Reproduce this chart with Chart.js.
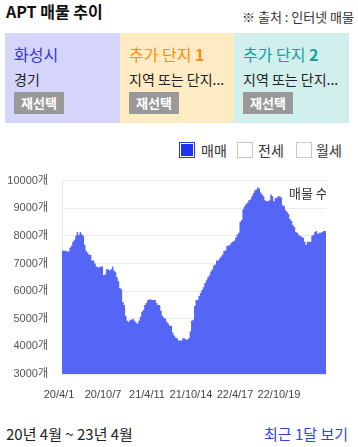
<!DOCTYPE html>
<html><head><meta charset="utf-8">
<script src="https://cdn.jsdelivr.net/npm/chart.js@4"></script>
<style>
html,body{margin:0;padding:0;background:#fff;width:358px;height:447px;overflow:hidden;font-family:"Noto Sans CJK KR","Noto Sans",sans-serif;color:#222;}
.abs{position:absolute;white-space:nowrap;}
#title{left:6px;top:0px;font-size:16px;font-weight:bold;color:#111;line-height:22px}
#src{right:4px;top:8px;font-size:13px;color:#333;line-height:18px}
.panel{position:absolute;top:33px;height:90px;}
.ptitle{position:absolute;left:9px;top:11px;font-size:16px;line-height:20px;white-space:nowrap}
.ptitle b{font-weight:bold}
.psub{position:absolute;left:9px;top:37px;font-size:14px;line-height:18px;color:#222;white-space:nowrap}
.btn{position:absolute;left:9px;top:59px;width:50px;height:22px;background:#999;color:#fff;font-weight:bold;font-size:13px;line-height:22px;text-align:center}
.lbox{position:absolute;top:142px;width:14px;height:14px;border:1px solid #c8c8c8;background:#fff}
.ltxt{position:absolute;top:141px;font-size:14px;line-height:18px;color:#333}
#chartWrap{position:absolute;left:0;top:160px;width:358px;height:240px}
#range{left:6px;top:424px;font-size:15px;line-height:20px;color:#222}
#recent{right:10px;top:424px;font-size:15px;line-height:20px;color:#3344ee}
</style>
</head><body>
<div id="title" class="abs">APT 매물 추이</div>
<div id="src" class="abs">※ 출처 : 인터넷 매물</div>

<div class="panel" style="left:5px;width:115px;background:#d5d5fb">
  <div class="ptitle" style="color:#3535e0">화성시</div>
  <div class="psub">경기</div>
  <div class="btn">재선택</div>
</div>
<div class="panel" style="left:120px;width:114px;background:#fdebc3">
  <div class="ptitle" style="color:#ff8a1a">추가 단지 <b>1</b></div>
  <div class="psub">지역 또는 단지...</div>
  <div class="btn">재선택</div>
</div>
<div class="panel" style="left:234px;width:115px;background:#d0efed">
  <div class="ptitle" style="color:#1a9e9a">추가 단지 <b>2</b></div>
  <div class="psub">지역 또는 단지...</div>
  <div class="btn">재선택</div>
</div>

<div class="lbox" style="left:179px;border-color:#2236ee;background:#1f33f0;box-shadow:inset 0 0 0 1px #fff"></div>
<div class="ltxt" style="left:201px">매매</div>
<div class="lbox" style="left:237px"></div>
<div class="ltxt" style="left:258px">전세</div>
<div class="lbox" style="left:296px"></div>
<div class="ltxt" style="left:316px">월세</div>

<div id="chartWrap"><canvas id="c" width="358" height="240"></canvas></div>

<div id="range" class="abs">20년 4월 ~ 23년 4월</div>
<div id="recent" class="abs">최근 1달 보기</div>

<script>
// ---- data ----
const tickLabels = ['20/4/1','20/10/7','21/4/11','21/10/14','22/4/17','22/10/19'];
const tickEvery = 30;
const seriesTitle = '매물 수';
const yMin = 3000, yMax = 10000, yStep = 1000;
const unit = '개';
const listings = [
7460,7460,7460,7430,7430,7570,7640,7790,7860,8000,
8140,8040,8140,8070,8000,7680,7460,7390,7320,7320,
7110,7110,7000,6890,6860,6860,6890,6890,6570,6610,
6790,6790,6750,6790,6890,6750,6680,6500,6360,6110,
6070,5610,5500,5110,4930,4890,4960,4960,5000,4930,
4860,4820,4930,5070,5250,5320,5500,5570,5680,5700,
5710,5680,5680,5680,5570,5500,5500,5290,5110,5040,
5000,4890,4820,4750,4750,4500,4390,4320,4290,4210,
4210,4210,4290,4290,4250,4250,4290,4540,4930,4960,
5460,5680,5680,5820,5930,6040,6140,6290,6390,6500,
6570,6710,6790,6930,6960,7110,7110,7180,7250,7320,
7460,7460,7640,7640,7680,7750,7790,7820,7930,8040,
8110,8500,8570,8960,9070,9140,9210,9290,9320,9430,
9540,9640,9680,9750,9710,9570,9500,9430,9290,9250,
9250,9290,9500,9430,9250,9360,9390,9430,9430,9390,
9110,9070,8930,8860,8790,8610,8540,8390,8320,8140,
8110,8040,8000,7960,7930,7790,7680,7790,7790,7790,
8000,8040,8140,8180,8070,8110,8110,8140,8180,8180,
8180
];
const categories = listings.map((_, i) => i % tickEvery === 0 ? (tickLabels[i / tickEvery] || '') : '');

const fillColor = 'rgb(85,102,246)';
const fontFamily = '"Noto Sans CJK KR","Noto Sans",sans-serif';
const tickFont = '"Liberation Sans","Noto Sans CJK KR",sans-serif';

const seriesTitlePlugin = {
  id: 'seriesTitle',
  afterDatasetsDraw(chart) {
    const {ctx, chartArea: a} = chart;
    ctx.save();
    ctx.beginPath();
    ctx.rect(a.left, a.top, a.right - a.left, a.bottom - a.top);
    ctx.clip();
    ctx.font = '13px ' + fontFamily;
    ctx.fillStyle = '#333';
    ctx.textBaseline = 'middle';
    ctx.textAlign = 'left';
    ctx.fillText(seriesTitle, a.right - 37, a.top + 12);
    ctx.restore();
  }
};

new Chart(document.getElementById('c'), {
  type: 'line',
  data: {
    labels: categories,
    datasets: [{
      label: seriesTitle,
      data: listings,
      fill: 'start',
      backgroundColor: fillColor,
      borderColor: 'rgba(0,0,0,0)',
      borderWidth: 0,
      pointRadius: 0,
      stepped: true,
      tension: 0
    }]
  },
  options: {
    responsive: false,
    animation: false,
    layout: { padding: { top: 18, right: 32, left: 0, bottom: 0 } },
    plugins: { legend: { display: false }, tooltip: { enabled: false } },
    scales: {
      x: {
        grid: { display: false },
        border: { display: false },
        ticks: {
          autoSkip: false, maxRotation: 0, minRotation: 0, padding: 6, labelOffset: -3,
          color: '#444', font: { family: tickFont, size: 11 },
          callback: (v, i) => categories[i]
        },
        afterFit: s => { s.height = 26; }
      },
      y: {
        min: yMin, max: yMax,
        grid: { color: '#ebebeb', drawTicks: false },
        border: { display: true, color: '#e6e6e6' },
        ticks: {
          stepSize: yStep, padding: 14,
          color: '#555', font: { family: tickFont, size: 11 },
          callback: v => v + unit
        },
        afterFit: s => { s.width = 62; }
      }
    }
  },
  plugins: [seriesTitlePlugin]
});
</script>
</body></html>
